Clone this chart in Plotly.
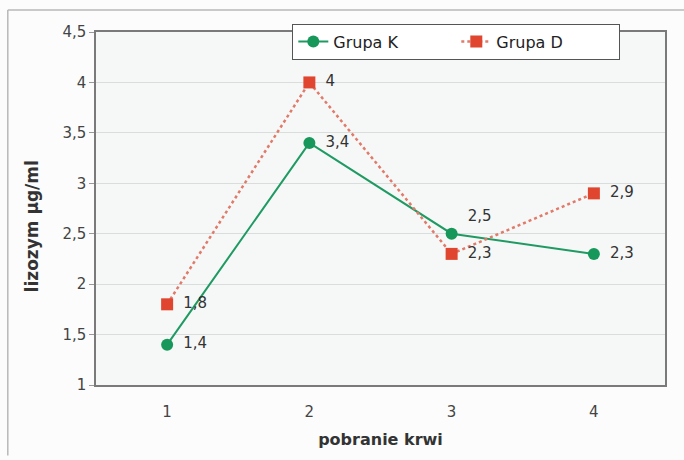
import plotly.graph_objects as go

# Blood sampling rounds and lysozyme levels for both groups
pobranie = [1, 2, 3, 4]
grupa_k = [1.4, 3.4, 2.5, 2.3]
grupa_d = [1.8, 4.0, 2.3, 2.9]
y_ticks = [1, 1.5, 2, 2.5, 3, 3.5, 4, 4.5]


def fmt(v):
    return "\u2002" + f"{v:g}".replace(".", ",")


font_family = "DejaVu Sans, Verdana, sans-serif"

fig = go.Figure()

fig.add_trace(go.Scatter(
    x=pobranie, y=grupa_k, name="Grupa K",
    mode="lines+markers+text",
    line=dict(color="#1f9a63", width=2),
    marker=dict(symbol="circle", size=12, color="#17985a"),
    text=[fmt(v) for v in grupa_k],
    textposition=["middle right", "middle right", "top right", "middle right"],
    textfont=dict(family=font_family, size=15, color="#333333"),
    cliponaxis=False,
))

fig.add_trace(go.Scatter(
    x=pobranie, y=grupa_d, name="Grupa D",
    mode="lines+markers+text",
    line=dict(color="#e07a6a", width=2.5, dash="dot"),
    marker=dict(symbol="square", size=12, color="#e0452f"),
    text=[fmt(v) for v in grupa_d],
    textposition="middle right",
    textfont=dict(family=font_family, size=15, color="#333333"),
    cliponaxis=False,
))

# Outer frame of the figure (top and left edges visible)
fig.add_shape(type="line", xref="paper", yref="paper",
              x0=-0.155, x1=1.04, y0=1.062, y1=1.062,
              line=dict(color="#b8b8b8", width=1.5))
fig.add_shape(type="line", xref="paper", yref="paper",
              x0=-0.155, x1=-0.155, y0=-0.2, y1=1.062,
              line=dict(color="#b8b8b8", width=1.5))

# Vertical axis title
fig.add_annotation(
    text="<b>lizozym µg/ml</b>", textangle=-90,
    xref="paper", yref="paper", x=-0.112, y=0.45,
    xanchor="center", yanchor="middle", showarrow=False,
    font=dict(family=font_family, size=17, color="#333333"),
)

fig.update_layout(
    width=684, height=460,
    margin=dict(l=96, r=19, t=32, b=75, autoexpand=False),
    paper_bgcolor="#fbfcfb",
    plot_bgcolor="#f6f8f7",
    separators=", ",
    font=dict(family=font_family, size=15, color="#333333"),
    showlegend=True,
    legend=dict(
        orientation="h",
        x=0.345, y=1.024, xanchor="left", yanchor="top",
        bgcolor="#ffffff", bordercolor="#555555", borderwidth=1,
        font=dict(family=font_family, size=16, color="#222222"),
        entrywidth=118,
    ),
    xaxis=dict(
        range=[0.5, 4.5],
        tickvals=pobranie,
        ticktext=[str(p) for p in pobranie],
        showgrid=False,
        showline=True, linecolor="#7a7a7a", linewidth=1.5, mirror=True,
        ticks="", ticklabelstandoff=12,
        tickfont=dict(size=15, color="#444444"),
        title=dict(text="<b>pobranie krwi</b>", font=dict(size=16, color="#333333"), standoff=14),
        zeroline=False,
    ),
    yaxis=dict(
        range=[1, 4.5],
        tickvals=y_ticks,
        showgrid=True, gridcolor="#d9dedd", gridwidth=1,
        showline=True, linecolor="#7a7a7a", linewidth=1.5, mirror=True,
        ticks="outside", ticklen=5, tickcolor="#999999",
        tickfont=dict(size=15, color="#444444"),
        zeroline=False,
    ),
)

fig.write_html("out.html")
